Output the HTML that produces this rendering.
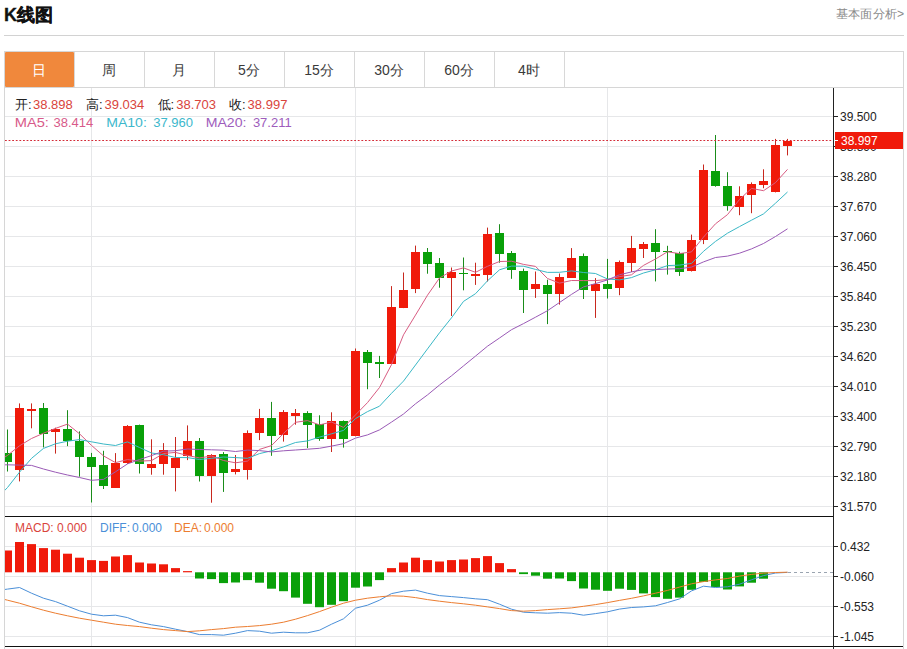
<!DOCTYPE html>
<html><head><meta charset="utf-8"><style>
html,body{margin:0;padding:0;background:#fff;width:907px;height:649px;overflow:hidden;position:relative}
svg text{font-family:"Liberation Sans",sans-serif}
</style></head><body>
<svg width="907" height="649" viewBox="0 0 907 649" style="position:absolute;left:0;top:0"><text x="4" y="20.6" font-size="18" font-weight="bold" fill="#111" stroke="#111" stroke-width="0.35">K线图</text><text x="836" y="17.6" font-size="12" fill="#8a8a8a" textLength="68" lengthAdjust="spacingAndGlyphs">基本面分析&gt;</text><rect x="4" y="35" width="900" height="1" fill="#d2d2d2"/><rect x="4" y="51" width="900" height="1" fill="#d6d6d6"/><rect x="4" y="87" width="900" height="1" fill="#d6d6d6"/><rect x="4" y="51" width="1" height="598" fill="#d6d6d6"/><rect x="903" y="51" width="1" height="598" fill="#d6d6d6"/><rect x="5" y="52" width="69" height="35" fill="#f0883c" rx="1"/><text x="39" y="75" font-size="14" fill="#fff" text-anchor="middle">日</text><rect x="74" y="52" width="1" height="35" fill="#d8d8d8"/><text x="109" y="75" font-size="14" fill="#3a3a3a" text-anchor="middle">周</text><rect x="144" y="52" width="1" height="35" fill="#d8d8d8"/><text x="179" y="75" font-size="14" fill="#3a3a3a" text-anchor="middle">月</text><rect x="214" y="52" width="1" height="35" fill="#d8d8d8"/><text x="249" y="75" font-size="14" fill="#3a3a3a" text-anchor="middle">5分</text><rect x="284" y="52" width="1" height="35" fill="#d8d8d8"/><text x="319" y="75" font-size="14" fill="#3a3a3a" text-anchor="middle">15分</text><rect x="354" y="52" width="1" height="35" fill="#d8d8d8"/><text x="389" y="75" font-size="14" fill="#3a3a3a" text-anchor="middle">30分</text><rect x="424" y="52" width="1" height="35" fill="#d8d8d8"/><text x="459" y="75" font-size="14" fill="#3a3a3a" text-anchor="middle">60分</text><rect x="494" y="52" width="1" height="35" fill="#d8d8d8"/><text x="529" y="75" font-size="14" fill="#3a3a3a" text-anchor="middle">4时</text><rect x="564" y="52" width="1" height="35" fill="#d8d8d8"/><rect x="5" y="116" width="828" height="1" fill="#e6e7e9"/><rect x="5" y="146" width="828" height="1" fill="#e6e7e9"/><rect x="5" y="176" width="828" height="1" fill="#e6e7e9"/><rect x="5" y="206" width="828" height="1" fill="#e6e7e9"/><rect x="5" y="236" width="828" height="1" fill="#e6e7e9"/><rect x="5" y="266" width="828" height="1" fill="#e6e7e9"/><rect x="5" y="296" width="828" height="1" fill="#e6e7e9"/><rect x="5" y="326" width="828" height="1" fill="#e6e7e9"/><rect x="5" y="356" width="828" height="1" fill="#e6e7e9"/><rect x="5" y="386" width="828" height="1" fill="#e6e7e9"/><rect x="5" y="416" width="828" height="1" fill="#e6e7e9"/><rect x="5" y="446" width="828" height="1" fill="#e6e7e9"/><rect x="5" y="476" width="828" height="1" fill="#e6e7e9"/><rect x="5" y="506" width="828" height="1" fill="#e6e7e9"/><rect x="5" y="546" width="828" height="1" fill="#e6e7e9"/><rect x="5" y="576" width="828" height="1" fill="#e6e7e9"/><rect x="5" y="606" width="828" height="1" fill="#e6e7e9"/><rect x="5" y="636" width="828" height="1" fill="#e6e7e9"/><rect x="91" y="88" width="1" height="558" fill="#e6e7e9"/><rect x="355" y="88" width="1" height="558" fill="#e6e7e9"/><rect x="607" y="88" width="1" height="558" fill="#e6e7e9"/><defs><clipPath id="cm"><rect x="5" y="88" width="828" height="428"/></clipPath><clipPath id="cd"><rect x="5" y="517" width="828" height="129"/></clipPath></defs><g clip-path="url(#cm)"><rect x="7" y="429.5" width="1" height="42.0" fill="#1a8c1a"/><rect x="3" y="453" width="9" height="9" fill="#09a009"/><rect x="19" y="403.4" width="1" height="78.0" fill="#c8281e"/><rect x="15" y="408" width="9" height="62" fill="#f01a0a"/><rect x="31" y="403.4" width="1" height="24.9" fill="#c8281e"/><rect x="27" y="409" width="9" height="2" fill="#f01a0a"/><rect x="43" y="403.0" width="1" height="44.4" fill="#1a8c1a"/><rect x="39" y="408" width="9" height="26" fill="#09a009"/><rect x="55" y="427.7" width="1" height="25.9" fill="#c8281e"/><rect x="51" y="429" width="9" height="3" fill="#f01a0a"/><rect x="67" y="410.2" width="1" height="35.9" fill="#1a8c1a"/><rect x="63" y="429" width="9" height="12" fill="#09a009"/><rect x="79" y="431.4" width="1" height="45.2" fill="#1a8c1a"/><rect x="75" y="441" width="9" height="16" fill="#09a009"/><rect x="91" y="452.9" width="1" height="49.6" fill="#1a8c1a"/><rect x="87" y="457" width="9" height="10" fill="#09a009"/><rect x="103" y="450.8" width="1" height="38.2" fill="#1a8c1a"/><rect x="99" y="465" width="9" height="21" fill="#09a009"/><rect x="115" y="453.1" width="1" height="34.7" fill="#c8281e"/><rect x="111" y="463" width="9" height="25" fill="#f01a0a"/><rect x="127" y="425.1" width="1" height="38.8" fill="#c8281e"/><rect x="123" y="426" width="9" height="37" fill="#f01a0a"/><rect x="139" y="424.6" width="1" height="48.9" fill="#1a8c1a"/><rect x="135" y="425" width="9" height="39" fill="#09a009"/><rect x="151" y="439.3" width="1" height="35.4" fill="#c8281e"/><rect x="147" y="464" width="9" height="4" fill="#f01a0a"/><rect x="163" y="443.1" width="1" height="31.6" fill="#c8281e"/><rect x="159" y="450" width="9" height="14" fill="#f01a0a"/><rect x="175" y="437.0" width="1" height="54.4" fill="#c8281e"/><rect x="171" y="458" width="9" height="10" fill="#f01a0a"/><rect x="187" y="425.4" width="1" height="34.7" fill="#c8281e"/><rect x="183" y="441" width="9" height="15" fill="#f01a0a"/><rect x="199" y="438.0" width="1" height="43.5" fill="#1a8c1a"/><rect x="195" y="441" width="9" height="35" fill="#09a009"/><rect x="211" y="454.2" width="1" height="48.5" fill="#c8281e"/><rect x="207" y="455" width="9" height="21" fill="#f01a0a"/><rect x="223" y="452.1" width="1" height="39.8" fill="#1a8c1a"/><rect x="219" y="454" width="9" height="19" fill="#09a009"/><rect x="235" y="455.0" width="1" height="19.4" fill="#c8281e"/><rect x="231" y="469" width="9" height="3" fill="#f01a0a"/><rect x="247" y="430.4" width="1" height="49.2" fill="#c8281e"/><rect x="243" y="433" width="9" height="37" fill="#f01a0a"/><rect x="259" y="408.9" width="1" height="31.2" fill="#c8281e"/><rect x="255" y="418" width="9" height="15" fill="#f01a0a"/><rect x="271" y="401.9" width="1" height="53.9" fill="#1a8c1a"/><rect x="267" y="418" width="9" height="18" fill="#09a009"/><rect x="283" y="410.1" width="1" height="31.5" fill="#c8281e"/><rect x="279" y="412" width="9" height="23" fill="#f01a0a"/><rect x="295" y="409.0" width="1" height="15.7" fill="#c8281e"/><rect x="291" y="413" width="9" height="3" fill="#f01a0a"/><rect x="307" y="411.2" width="1" height="36.9" fill="#1a8c1a"/><rect x="303" y="413" width="9" height="12" fill="#09a009"/><rect x="319" y="415.3" width="1" height="25.5" fill="#1a8c1a"/><rect x="315" y="424" width="9" height="15" fill="#09a009"/><rect x="331" y="412.3" width="1" height="39.7" fill="#c8281e"/><rect x="327" y="421" width="9" height="18" fill="#f01a0a"/><rect x="343" y="420.4" width="1" height="27.2" fill="#1a8c1a"/><rect x="339" y="421" width="9" height="18" fill="#09a009"/><rect x="355" y="348.5" width="1" height="87.8" fill="#c8281e"/><rect x="351" y="351" width="9" height="85" fill="#f01a0a"/><rect x="367" y="350.0" width="1" height="39.2" fill="#1a8c1a"/><rect x="363" y="352" width="9" height="11" fill="#09a009"/><rect x="379" y="355.9" width="1" height="22.1" fill="#1a8c1a"/><rect x="375" y="362" width="9" height="2" fill="#09a009"/><rect x="391" y="286.1" width="1" height="78.1" fill="#c8281e"/><rect x="387" y="307" width="9" height="57" fill="#f01a0a"/><rect x="403" y="272.5" width="1" height="35.6" fill="#c8281e"/><rect x="399" y="290" width="9" height="18" fill="#f01a0a"/><rect x="415" y="245.6" width="1" height="47.5" fill="#c8281e"/><rect x="411" y="252" width="9" height="37" fill="#f01a0a"/><rect x="427" y="248.0" width="1" height="25.7" fill="#1a8c1a"/><rect x="423" y="252" width="9" height="12" fill="#09a009"/><rect x="439" y="258.0" width="1" height="29.7" fill="#1a8c1a"/><rect x="435" y="263" width="9" height="15" fill="#09a009"/><rect x="451" y="267.5" width="1" height="48.5" fill="#c8281e"/><rect x="447" y="272" width="9" height="6" fill="#f01a0a"/><rect x="463" y="257.5" width="1" height="32.8" fill="#1a8c1a"/><rect x="459" y="273" width="9" height="1" fill="#09a009"/><rect x="475" y="262.7" width="1" height="22.2" fill="#c8281e"/><rect x="471" y="274" width="9" height="2" fill="#f01a0a"/><rect x="487" y="227.6" width="1" height="53.9" fill="#c8281e"/><rect x="483" y="234" width="9" height="41" fill="#f01a0a"/><rect x="499" y="224.2" width="1" height="38.5" fill="#1a8c1a"/><rect x="495" y="233" width="9" height="21" fill="#09a009"/><rect x="511" y="251.0" width="1" height="27.8" fill="#1a8c1a"/><rect x="507" y="253" width="9" height="17" fill="#09a009"/><rect x="523" y="268.6" width="1" height="44.4" fill="#1a8c1a"/><rect x="519" y="271" width="9" height="19" fill="#09a009"/><rect x="535" y="271.5" width="1" height="26.4" fill="#c8281e"/><rect x="531" y="284" width="9" height="5" fill="#f01a0a"/><rect x="547" y="279.7" width="1" height="44.4" fill="#1a8c1a"/><rect x="543" y="285" width="9" height="9" fill="#09a009"/><rect x="559" y="273.5" width="1" height="31.1" fill="#c8281e"/><rect x="555" y="277" width="9" height="17" fill="#f01a0a"/><rect x="571" y="248.1" width="1" height="29.7" fill="#c8281e"/><rect x="567" y="258" width="9" height="20" fill="#f01a0a"/><rect x="583" y="253.5" width="1" height="45.5" fill="#1a8c1a"/><rect x="579" y="256" width="9" height="34" fill="#09a009"/><rect x="595" y="278.1" width="1" height="39.8" fill="#c8281e"/><rect x="591" y="284" width="9" height="7" fill="#f01a0a"/><rect x="607" y="258.9" width="1" height="39.6" fill="#1a8c1a"/><rect x="603" y="284" width="9" height="5" fill="#09a009"/><rect x="619" y="260.5" width="1" height="34.7" fill="#c8281e"/><rect x="615" y="262" width="9" height="26" fill="#f01a0a"/><rect x="631" y="235.9" width="1" height="36.1" fill="#c8281e"/><rect x="627" y="248" width="9" height="15" fill="#f01a0a"/><rect x="643" y="242.0" width="1" height="16.0" fill="#c8281e"/><rect x="639" y="244" width="9" height="5" fill="#f01a0a"/><rect x="655" y="229.2" width="1" height="52.2" fill="#1a8c1a"/><rect x="651" y="243" width="9" height="9" fill="#09a009"/><rect x="667" y="245.8" width="1" height="28.8" fill="#1a8c1a"/><rect x="663" y="251" width="9" height="1" fill="#09a009"/><rect x="679" y="251.7" width="1" height="24.2" fill="#1a8c1a"/><rect x="675" y="253" width="9" height="19" fill="#09a009"/><rect x="691" y="234.6" width="1" height="36.9" fill="#c8281e"/><rect x="687" y="240" width="9" height="31" fill="#f01a0a"/><rect x="703" y="164.5" width="1" height="79.6" fill="#c8281e"/><rect x="699" y="170" width="9" height="70" fill="#f01a0a"/><rect x="715" y="135.0" width="1" height="51.7" fill="#1a8c1a"/><rect x="711" y="171" width="9" height="15" fill="#09a009"/><rect x="727" y="172.2" width="1" height="38.5" fill="#1a8c1a"/><rect x="723" y="186" width="9" height="20" fill="#09a009"/><rect x="739" y="186.3" width="1" height="28.9" fill="#c8281e"/><rect x="735" y="196" width="9" height="11" fill="#f01a0a"/><rect x="751" y="182.4" width="1" height="30.8" fill="#c8281e"/><rect x="747" y="184" width="9" height="11" fill="#f01a0a"/><rect x="763" y="169.3" width="1" height="18.9" fill="#c8281e"/><rect x="759" y="181" width="9" height="4" fill="#f01a0a"/><rect x="775" y="138.9" width="1" height="53.5" fill="#c8281e"/><rect x="771" y="145" width="9" height="47" fill="#f01a0a"/><rect x="787" y="138.9" width="1" height="16.5" fill="#c8281e"/><rect x="783" y="141" width="9" height="5" fill="#f01a0a"/><polyline points="-4.5,463.0 7.5,455.4 19.5,445.8 31.5,438.5 43.5,433.2 55.5,428.4 67.5,424.1 79.5,433.8 91.5,445.4 103.5,455.9 115.5,462.6 127.5,459.6 139.5,461.1 151.5,460.6 163.5,453.5 175.5,452.4 187.5,455.5 199.5,457.9 211.5,456.0 223.5,460.5 235.5,462.8 247.5,461.1 259.5,449.4 271.5,445.6 283.5,433.4 295.5,422.3 307.5,420.6 319.5,424.9 331.5,422.0 343.5,427.4 355.5,414.9 367.5,402.6 379.5,387.5 391.5,364.6 403.5,334.8 415.5,315.1 427.5,295.2 439.5,278.0 451.5,271.0 463.5,267.9 475.5,272.3 487.5,266.3 499.5,261.5 511.5,261.2 523.5,264.4 535.5,266.4 547.5,278.5 559.5,283.1 571.5,280.5 583.5,280.6 595.5,280.6 607.5,279.5 619.5,276.6 631.5,274.8 643.5,265.4 655.5,259.0 667.5,251.8 679.5,253.6 691.5,251.9 703.5,237.1 715.5,223.8 727.5,214.6 739.5,199.5 751.5,188.4 763.5,190.7 775.5,182.6 787.5,169.4" fill="none" stroke="#d85c82" stroke-width="1"/><polyline points="-4.5,500.0 7.5,487.5 19.5,472.2 31.5,458.4 43.5,448.4 55.5,443.8 67.5,441.2 79.5,439.6 91.5,441.8 103.5,444.0 115.5,445.5 127.5,441.9 139.5,447.5 151.5,453.0 163.5,454.7 175.5,457.5 187.5,457.6 199.5,459.5 211.5,458.3 223.5,457.0 235.5,457.6 247.5,458.3 259.5,453.6 271.5,450.8 283.5,446.9 295.5,442.5 307.5,440.9 319.5,437.1 331.5,433.8 343.5,430.4 355.5,418.6 367.5,411.6 379.5,406.2 391.5,393.3 403.5,381.1 415.5,365.0 427.5,348.9 439.5,332.8 451.5,317.8 463.5,301.4 475.5,293.7 487.5,280.8 499.5,269.8 511.5,266.1 523.5,266.2 535.5,269.4 547.5,272.4 559.5,272.3 571.5,270.9 583.5,272.5 595.5,273.5 607.5,279.0 619.5,279.9 631.5,277.6 643.5,273.0 655.5,269.8 667.5,265.6 679.5,265.1 691.5,263.4 703.5,251.3 715.5,241.4 727.5,233.2 739.5,226.6 751.5,220.2 763.5,213.9 775.5,203.2 787.5,192.0" fill="none" stroke="#3ab8c6" stroke-width="1"/><polyline points="-4.5,465.0 7.5,464.8 19.5,465.1 31.5,465.4 43.5,469.0 55.5,472.2 67.5,475.0 79.5,477.5 91.5,480.3 103.5,479.4 115.5,471.8 127.5,463.9 139.5,459.5 151.5,455.6 163.5,451.2 175.5,450.7 187.5,449.0 199.5,449.5 211.5,449.8 223.5,450.2 235.5,451.5 247.5,450.1 259.5,450.6 271.5,451.9 283.5,450.8 295.5,450.0 307.5,449.2 319.5,448.3 331.5,446.1 343.5,443.7 355.5,438.1 367.5,434.9 379.5,429.9 391.5,422.1 403.5,414.0 415.5,403.8 427.5,394.9 439.5,385.0 451.5,375.8 463.5,365.9 475.5,356.1 487.5,346.2 499.5,338.0 511.5,329.7 523.5,323.6 535.5,317.2 547.5,310.7 559.5,302.5 571.5,294.4 583.5,286.9 595.5,283.6 607.5,279.9 619.5,274.8 631.5,271.9 643.5,269.6 655.5,269.6 667.5,269.0 679.5,268.7 691.5,267.1 703.5,261.9 715.5,257.5 727.5,256.1 739.5,253.2 751.5,248.9 763.5,243.5 775.5,236.5 787.5,228.8" fill="none" stroke="#9a5ab6" stroke-width="1"/></g><line x1="5" y1="140.5" x2="833" y2="140.5" stroke="#d42a36" stroke-width="1" stroke-dasharray="1.8 1.8"/><g clip-path="url(#cd)"><rect x="3" y="550.5" width="9" height="21.8" fill="#f01a0a"/><rect x="15" y="542.0" width="9" height="30.3" fill="#f01a0a"/><rect x="27" y="544.1" width="9" height="28.2" fill="#f01a0a"/><rect x="39" y="548.1" width="9" height="24.2" fill="#f01a0a"/><rect x="51" y="549.7" width="9" height="22.6" fill="#f01a0a"/><rect x="63" y="553.7" width="9" height="18.6" fill="#f01a0a"/><rect x="75" y="557.7" width="9" height="14.6" fill="#f01a0a"/><rect x="87" y="560.1" width="9" height="12.2" fill="#f01a0a"/><rect x="99" y="560.9" width="9" height="11.4" fill="#f01a0a"/><rect x="111" y="556.5" width="9" height="15.8" fill="#f01a0a"/><rect x="123" y="555.1" width="9" height="17.2" fill="#f01a0a"/><rect x="135" y="562.5" width="9" height="9.8" fill="#f01a0a"/><rect x="147" y="563.5" width="9" height="8.8" fill="#f01a0a"/><rect x="159" y="564.3" width="9" height="8.0" fill="#f01a0a"/><rect x="171" y="568.1" width="9" height="4.2" fill="#f01a0a"/><rect x="183" y="571.1" width="9" height="1.2" fill="#f01a0a"/><rect x="195" y="572.3" width="9" height="6.2" fill="#09a009"/><rect x="207" y="572.3" width="9" height="6.8" fill="#09a009"/><rect x="219" y="572.3" width="9" height="10.8" fill="#09a009"/><rect x="231" y="572.3" width="9" height="10.2" fill="#09a009"/><rect x="243" y="572.3" width="9" height="7.8" fill="#09a009"/><rect x="255" y="572.3" width="9" height="10.4" fill="#09a009"/><rect x="267" y="572.3" width="9" height="16.4" fill="#09a009"/><rect x="279" y="572.3" width="9" height="18.9" fill="#09a009"/><rect x="291" y="572.3" width="9" height="25.3" fill="#09a009"/><rect x="303" y="572.3" width="9" height="31.5" fill="#09a009"/><rect x="315" y="572.3" width="9" height="34.9" fill="#09a009"/><rect x="327" y="572.3" width="9" height="32.5" fill="#09a009"/><rect x="339" y="572.3" width="9" height="28.9" fill="#09a009"/><rect x="351" y="572.3" width="9" height="15.4" fill="#09a009"/><rect x="363" y="572.3" width="9" height="14.2" fill="#09a009"/><rect x="375" y="572.3" width="9" height="7.8" fill="#09a009"/><rect x="387" y="568.1" width="9" height="4.2" fill="#f01a0a"/><rect x="399" y="562.5" width="9" height="9.8" fill="#f01a0a"/><rect x="411" y="557.7" width="9" height="14.6" fill="#f01a0a"/><rect x="423" y="560.1" width="9" height="12.2" fill="#f01a0a"/><rect x="435" y="561.5" width="9" height="10.8" fill="#f01a0a"/><rect x="447" y="560.1" width="9" height="12.2" fill="#f01a0a"/><rect x="459" y="559.5" width="9" height="12.8" fill="#f01a0a"/><rect x="471" y="558.1" width="9" height="14.2" fill="#f01a0a"/><rect x="483" y="556.1" width="9" height="16.2" fill="#f01a0a"/><rect x="495" y="563.1" width="9" height="9.2" fill="#f01a0a"/><rect x="507" y="569.1" width="9" height="3.2" fill="#f01a0a"/><rect x="519" y="572.3" width="9" height="1.8" fill="#09a009"/><rect x="531" y="572.3" width="9" height="3.4" fill="#09a009"/><rect x="543" y="572.3" width="9" height="6.4" fill="#09a009"/><rect x="555" y="572.3" width="9" height="6.2" fill="#09a009"/><rect x="567" y="572.3" width="9" height="8.8" fill="#09a009"/><rect x="579" y="572.3" width="9" height="16.2" fill="#09a009"/><rect x="591" y="572.3" width="9" height="17.4" fill="#09a009"/><rect x="603" y="572.3" width="9" height="18.5" fill="#09a009"/><rect x="615" y="572.3" width="9" height="16.4" fill="#09a009"/><rect x="627" y="572.3" width="9" height="17.6" fill="#09a009"/><rect x="639" y="572.3" width="9" height="21.1" fill="#09a009"/><rect x="651" y="572.3" width="9" height="24.8" fill="#09a009"/><rect x="663" y="572.3" width="9" height="26.5" fill="#09a009"/><rect x="675" y="572.3" width="9" height="25.3" fill="#09a009"/><rect x="687" y="572.3" width="9" height="17.5" fill="#09a009"/><rect x="699" y="572.3" width="9" height="9.6" fill="#09a009"/><rect x="711" y="572.3" width="9" height="14.8" fill="#09a009"/><rect x="723" y="572.3" width="9" height="17.2" fill="#09a009"/><rect x="735" y="572.3" width="9" height="14.1" fill="#09a009"/><rect x="747" y="572.3" width="9" height="10.4" fill="#09a009"/><rect x="759" y="572.3" width="9" height="6.4" fill="#09a009"/><polyline points="-4.5,590.7 7.5,589.1 19.5,587.5 31.5,593.2 43.5,598.2 55.5,601.6 67.5,606.2 79.5,610.8 91.5,614.2 103.5,615.8 115.5,615.2 127.5,617.6 139.5,622.2 151.5,624.8 163.5,626.6 175.5,629.2 187.5,631.6 199.5,634.6 211.5,634.6 223.5,635.2 235.5,633.2 247.5,630.6 259.5,631.2 271.5,633.2 283.5,632.2 295.5,632.8 307.5,632.8 319.5,630.2 331.5,624.2 343.5,618.8 355.5,608.2 367.5,605.2 379.5,600.2 391.5,593.6 403.5,591.2 415.5,590.1 427.5,593.2 439.5,595.6 451.5,596.6 463.5,597.6 475.5,598.8 487.5,599.7 499.5,604.2 511.5,609.2 523.5,612.2 535.5,612.8 547.5,613.2 559.5,612.6 571.5,613.2 583.5,615.2 595.5,613.6 607.5,611.8 619.5,609.1 631.5,607.5 643.5,606.9 655.5,605.8 667.5,602.5 679.5,598.9 691.5,590.9 703.5,586.2 715.5,587.5 727.5,586.8 739.5,584.2 751.5,579.8 763.5,575.6 775.5,573.0 787.5,572.4" fill="none" stroke="#4a8fd8" stroke-width="1"/><polyline points="-4.5,597.2 7.5,600.2 19.5,603.2 31.5,606.8 43.5,610.2 55.5,613.2 67.5,615.8 79.5,618.2 91.5,620.2 103.5,622.2 115.5,624.2 127.5,625.5 139.5,626.6 151.5,628.2 163.5,629.6 175.5,630.6 187.5,631.6 199.5,630.8 211.5,629.6 223.5,628.6 235.5,627.2 247.5,626.5 259.5,625.6 271.5,624.2 283.5,622.2 295.5,619.2 307.5,615.6 319.5,611.6 331.5,607.2 343.5,603.2 355.5,600.2 367.5,598.2 379.5,596.8 391.5,595.8 403.5,596.2 415.5,597.6 427.5,599.6 439.5,601.2 451.5,602.6 463.5,603.8 475.5,605.2 487.5,606.9 499.5,608.6 511.5,610.6 523.5,611.2 535.5,610.6 547.5,609.6 559.5,608.8 571.5,607.9 583.5,606.3 595.5,604.6 607.5,602.6 619.5,600.4 631.5,598.3 643.5,595.9 655.5,593.2 667.5,590.4 679.5,587.1 691.5,583.8 703.5,581.6 715.5,579.9 727.5,578.5 739.5,576.1 751.5,574.4 763.5,573.1 775.5,572.5 787.5,572.2" fill="none" stroke="#ec7d30" stroke-width="1"/><line x1="788" y1="572.5" x2="833" y2="572.5" stroke="#9aa4b0" stroke-width="1" stroke-dasharray="3 3"/></g><rect x="5" y="516" width="828" height="1" fill="#111"/><rect x="5" y="646" width="898" height="1" fill="#111"/><rect x="833" y="88" width="1" height="561" fill="#222"/><rect x="833" y="116" width="5" height="1" fill="#222"/><text x="840" y="121" font-size="12" fill="#222">39.500</text><rect x="833" y="146" width="5" height="1" fill="#222"/><text x="840" y="151" font-size="12" fill="#222">38.890</text><rect x="833" y="176" width="5" height="1" fill="#222"/><text x="840" y="181" font-size="12" fill="#222">38.280</text><rect x="833" y="206" width="5" height="1" fill="#222"/><text x="840" y="211" font-size="12" fill="#222">37.670</text><rect x="833" y="236" width="5" height="1" fill="#222"/><text x="840" y="241" font-size="12" fill="#222">37.060</text><rect x="833" y="266" width="5" height="1" fill="#222"/><text x="840" y="271" font-size="12" fill="#222">36.450</text><rect x="833" y="296" width="5" height="1" fill="#222"/><text x="840" y="301" font-size="12" fill="#222">35.840</text><rect x="833" y="326" width="5" height="1" fill="#222"/><text x="840" y="331" font-size="12" fill="#222">35.230</text><rect x="833" y="356" width="5" height="1" fill="#222"/><text x="840" y="361" font-size="12" fill="#222">34.620</text><rect x="833" y="386" width="5" height="1" fill="#222"/><text x="840" y="391" font-size="12" fill="#222">34.010</text><rect x="833" y="416" width="5" height="1" fill="#222"/><text x="840" y="421" font-size="12" fill="#222">33.400</text><rect x="833" y="446" width="5" height="1" fill="#222"/><text x="840" y="451" font-size="12" fill="#222">32.790</text><rect x="833" y="476" width="5" height="1" fill="#222"/><text x="840" y="481" font-size="12" fill="#222">32.180</text><rect x="833" y="506" width="5" height="1" fill="#222"/><text x="840" y="511" font-size="12" fill="#222">31.570</text><rect x="833" y="546" width="5" height="1" fill="#222"/><text x="840" y="551" font-size="12" fill="#222">0.432</text><rect x="833" y="576" width="5" height="1" fill="#222"/><text x="840" y="581" font-size="12" fill="#222">-0.060</text><rect x="833" y="606" width="5" height="1" fill="#222"/><text x="840" y="611" font-size="12" fill="#222">-0.553</text><rect x="833" y="636" width="5" height="1" fill="#222"/><text x="840" y="641" font-size="12" fill="#222">-1.045</text><rect x="835" y="132" width="68" height="17" fill="#f01a0a"/><rect x="835" y="140" width="3" height="1" fill="#fff"/><text x="841" y="145.3" font-size="12" fill="#fff">38.997</text><text x="15" y="109" font-size="13" fill="#222">开:</text><text x="86" y="109" font-size="13" fill="#222">高:</text><text x="157.6" y="109" font-size="13" fill="#222">低:</text><text x="229" y="109" font-size="13" fill="#222">收:</text><text x="33" y="109" font-size="13" fill="#d9443c">38.898</text><text x="104.5" y="109" font-size="13" fill="#d9443c">39.034</text><text x="176.2" y="109" font-size="13" fill="#d9443c">38.703</text><text x="247.6" y="109" font-size="13" fill="#d9443c">38.997</text><text x="14.7" y="127" font-size="13" fill="#d85a8a" textLength="34.2" lengthAdjust="spacingAndGlyphs">MA5:</text><text x="53.5" y="127" font-size="13" fill="#d85a8a">38.414</text><text x="106.2" y="127" font-size="13" fill="#3cb8cc" textLength="40.6" lengthAdjust="spacingAndGlyphs">MA10:</text><text x="153.2" y="127" font-size="13" fill="#3cb8cc">37.960</text><text x="205.7" y="127" font-size="13" fill="#9e5cbc" textLength="40.8" lengthAdjust="spacingAndGlyphs">MA20:</text><text x="252.9" y="127" font-size="13" fill="#9e5cbc">37.211</text><text x="15" y="532" font-size="12" fill="#d9443c">MACD:</text><text x="57" y="532" font-size="12" fill="#d9443c">0.000</text><text x="100" y="532" font-size="12" fill="#4a8fd8">DIFF:</text><text x="132" y="532" font-size="12" fill="#4a8fd8">0.000</text><text x="174" y="532" font-size="12" fill="#ec7d30">DEA:</text><text x="204" y="532" font-size="12" fill="#ec7d30">0.000</text></svg>
</body></html>
